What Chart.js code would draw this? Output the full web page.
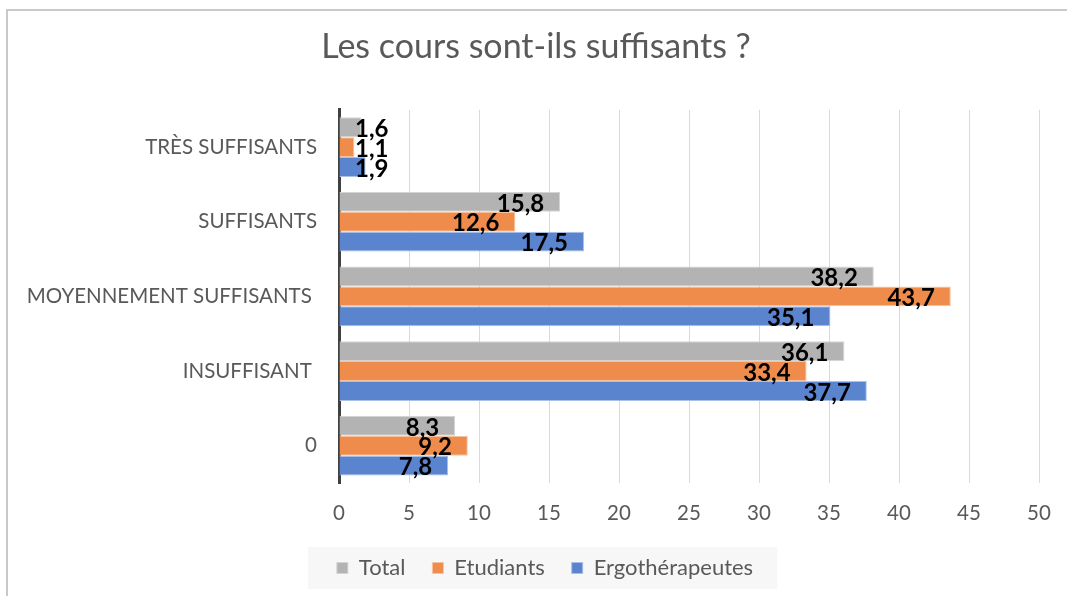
<!DOCTYPE html>
<html>
<head>
<meta charset="utf-8">
<script src="https://cdn.jsdelivr.net/npm/chart.js@4"></script>
<style>
  html, body { margin: 0; padding: 0; background: #fff; }
  #wrap { width: 1067px; height: 596px; }
</style>
</head>
<body>
<div id="wrap"><canvas id="myChart"></canvas></div>
<script>
// data
let categories = ['TRÈS SUFFISANTS', 'SUFFISANTS', 'MOYENNEMENT SUFFISANTS ', 'INSUFFISANT ', '0'];
let total = [1.6, 15.8, 38.2, 36.1, 8.3];
let etudiants = [1.1, 12.6, 43.7, 33.4, 9.2];
let ergos = [1.9, 17.5, 35.1, 37.7, 7.8];
let xTicks = [0, 5, 10, 15, 20, 25, 30, 35, 40, 45, 50];

let ctx = document.getElementById("myChart").getContext('2d');

Chart.defaults.font.family = 'Lato, "Open Sans", sans-serif';
Chart.defaults.color = '#595959';

// frame + legend background
let framePlugin = {
    id: 'frame',
    afterLayout(chart) {
        // legend sits a bit right of centre in the original
        chart.legend.left += 9;
        chart.legend.right += 9;
    },
    beforeDraw(chart) {
        let c = chart.ctx;
        c.save();
        c.strokeStyle = '#c9c9c9';
        c.lineWidth = 2;
        c.beginPath();
        c.moveTo(7, 596);
        c.lineTo(7, 10);
        c.lineTo(1067, 10);
        c.stroke();
        // legend box fill
        let lg = chart.legend;
        let boxes = lg.legendHitBoxes;
        if (boxes && boxes.length) {
            let l = boxes[0].left - 29;
            let last = boxes[boxes.length - 1];
            let r = last.left + last.width + 24;
            c.fillStyle = '#f7f7f7';
            c.fillRect(l, lg.top, r - l, lg.bottom - lg.top);
        }
        c.restore();
    }
};

// value labels like excel ("inside end", bold)
let labelPlugin = {
    id: 'valueLabels',
    afterDatasetsDraw(chart) {
        let c = chart.ctx;
        let axisX = chart.scales.x.getPixelForValue(0);
        c.save();
        c.font = 'bold 24px Lato, "Open Sans", sans-serif';
        c.fillStyle = '#000';
        c.textAlign = 'right';
        c.textBaseline = 'middle';
        chart.data.datasets.forEach((ds, i) => {
            let meta = chart.getDatasetMeta(i);
            meta.data.forEach((bar, j) => {
                let txt = String(ds.data[j]).replace('.', ',');
                let w = c.measureText(txt).width;
                let x = Math.max(bar.x - 16, axisX + 16 + w);
                c.fillText(txt, x, bar.y + 2);
            });
        });
        c.restore();
    }
};

let myChart = new Chart(ctx, {
    type: 'bar',
    data: {
        labels: categories,
        datasets: [{
            label: 'Total',
            data: total,
            backgroundColor: '#b3b3b3',
            borderColor: '#d4d4d4',
            borderWidth: 1
        }, {
            label: 'Etudiants',
            data: etudiants,
            backgroundColor: '#ef8c4c',
            borderColor: '#f6c3a0',
            borderWidth: 1
        }, {
            label: 'Ergothérapeutes',
            data: ergos,
            backgroundColor: '#5b84cf',
            borderColor: '#a9c0e8',
            borderWidth: 1
        }]
    },
    options: {
        indexAxis: 'y',
        responsive: true,
        maintainAspectRatio: false,
        animation: false,
        datasets: {
            bar: { categoryPercentage: 0.8, barPercentage: 1.0 }
        },
        layout: { padding: { left: 5, right: 0, top: 0, bottom: 7 } },
        plugins: {
            title: {
                display: true,
                text: 'Les cours sont-ils suffisants ?',
                color: '#595959',
                font: { size: 34, weight: 'normal' },
                padding: { top: 27, bottom: 42 }
            },
            legend: {
                position: 'bottom',
                labels: {
                    boxWidth: 11,
                    boxHeight: 11,
                    padding: 10,
                    font: { size: 22 },
                    color: '#595959',
                    generateLabels: (chart) => {
                        let items = Chart.defaults.plugins.legend.labels.generateLabels(chart);
                        // wider gaps between items, like the original
                        items.forEach((it, i) => {
                            if (i < items.length - 1) it.text += '   ';
                        });
                        return items;
                    }
                }
            },
            tooltip: { enabled: false }
        },
        scales: {
            x: {
                min: 0,
                max: 50,
                afterBuildTicks: (scale) => { scale.ticks = xTicks.map(v => ({ value: v })); },
                grid: { color: '#d9d9d9', lineWidth: 1, drawTicks: false },
                border: { display: false },
                ticks: { font: { size: 20.5 }, padding: 18, color: '#595959' },
                afterFit: (scale) => { scale.height = 64; scale.paddingRight = 28; }
            },
            y: {
                grid: { display: false, drawTicks: false },
                border: { display: true, color: '#404040', width: 3 },
                ticks: { font: { size: 20.5 }, padding: 22, color: '#595959' },
                afterFit: (scale) => { scale.width = 334; }
            }
        }
    },
    plugins: [framePlugin, labelPlugin]
});
</script>
</body>
</html>
